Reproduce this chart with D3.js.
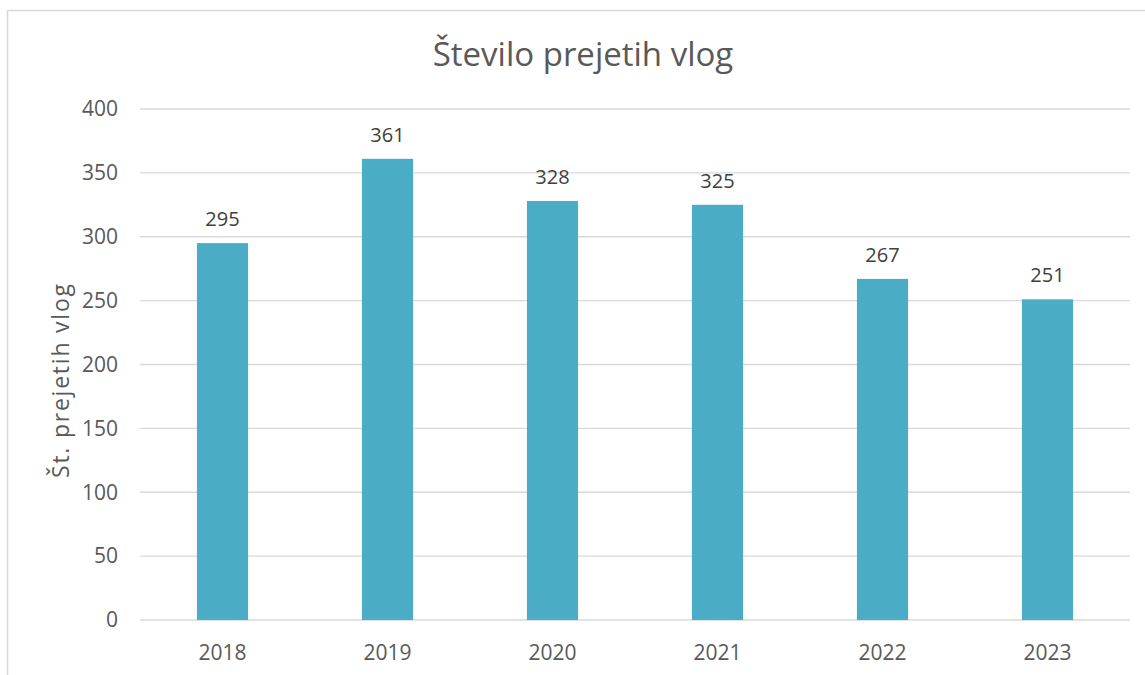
<!DOCTYPE html>
<html>
<head>
<meta charset="utf-8">
<script src="https://cdn.jsdelivr.net/npm/d3@7"></script>
<style>
  body { margin: 0; background: #fff; }
  text { font-family: "Open Sans", "Noto Sans", sans-serif; }
</style>
</head>
<body>
<div id="chart"></div>
<script>
const years = ['2018', '2019', '2020', '2021', '2022', '2023'];
const counts = [295, 361, 328, 325, 267, 251];
const yTicks = [0, 50, 100, 150, 200, 250, 300, 350, 400];

const width = 1145;
const height = 675;
const plot = {left: 140, right: 1130, top: 109, bottom: 620};

const svg = d3.select('#chart').append('svg')
  .attr('width', width)
  .attr('height', height);

// chart frame (clipped on the right and bottom)
svg.append('path')
  .attr('d', `M7.5,${height} V10.5 H${width}`)
  .attr('fill', 'none')
  .attr('stroke', '#d9d9d9')
  .attr('stroke-width', 1.5);

const x = d3.scaleBand()
  .domain(years)
  .range([plot.left, plot.right])
  .paddingInner(0.69)
  .paddingOuter(0.345);

const y = d3.scaleLinear()
  .domain([0, 400])
  .range([plot.bottom, plot.top]);

// gridlines
svg.append('g').selectAll('line').data(yTicks)
  .enter().append('line')
  .attr('x1', plot.left)
  .attr('x2', plot.right)
  .attr('y1', d => y(d))
  .attr('y2', d => y(d))
  .attr('stroke', '#d9d9d9')
  .attr('stroke-width', 1.3);

// y tick labels
svg.append('g').selectAll('text').data(yTicks)
  .enter().append('text')
  .attr('x', 118)
  .attr('y', d => y(d))
  .attr('dy', '0.35em')
  .attr('text-anchor', 'end')
  .attr('font-size', 21)
  .attr('fill', '#595959')
  .text(d => d);

// bars
svg.append('g').selectAll('rect').data(counts)
  .enter().append('rect')
  .attr('x', (d, i) => x(years[i]))
  .attr('width', x.bandwidth())
  .attr('y', d => y(d))
  .attr('height', d => y(0) - y(d))
  .attr('fill', '#4bacc6');

// value labels
svg.append('g').selectAll('text').data(counts)
  .enter().append('text')
  .attr('x', (d, i) => x(years[i]) + x.bandwidth() / 2)
  .attr('y', d => y(d) - 17)
  .attr('text-anchor', 'middle')
  .attr('font-size', 20)
  .attr('fill', '#404040')
  .text(d => d);

// x labels
svg.append('g').selectAll('text').data(years)
  .enter().append('text')
  .attr('x', d => x(d) + x.bandwidth() / 2)
  .attr('y', 660)
  .attr('text-anchor', 'middle')
  .attr('font-size', 21)
  .attr('fill', '#595959')
  .text(d => d);

// title
svg.append('text')
  .attr('x', 583)
  .attr('y', 66)
  .attr('text-anchor', 'middle')
  .attr('font-size', 33)
  .attr('fill', '#595959')
  .text('Število prejetih vlog');

// y axis title
svg.append('text')
  .attr('transform', 'translate(69, 381) rotate(-90)')
  .attr('text-anchor', 'middle')
  .attr('font-size', 23)
  .attr('textLength', 194)
  .attr('lengthAdjust', 'spacing')
  .attr('fill', '#595959')
  .text('Št. prejetih vlog');
</script>
</body>
</html>
